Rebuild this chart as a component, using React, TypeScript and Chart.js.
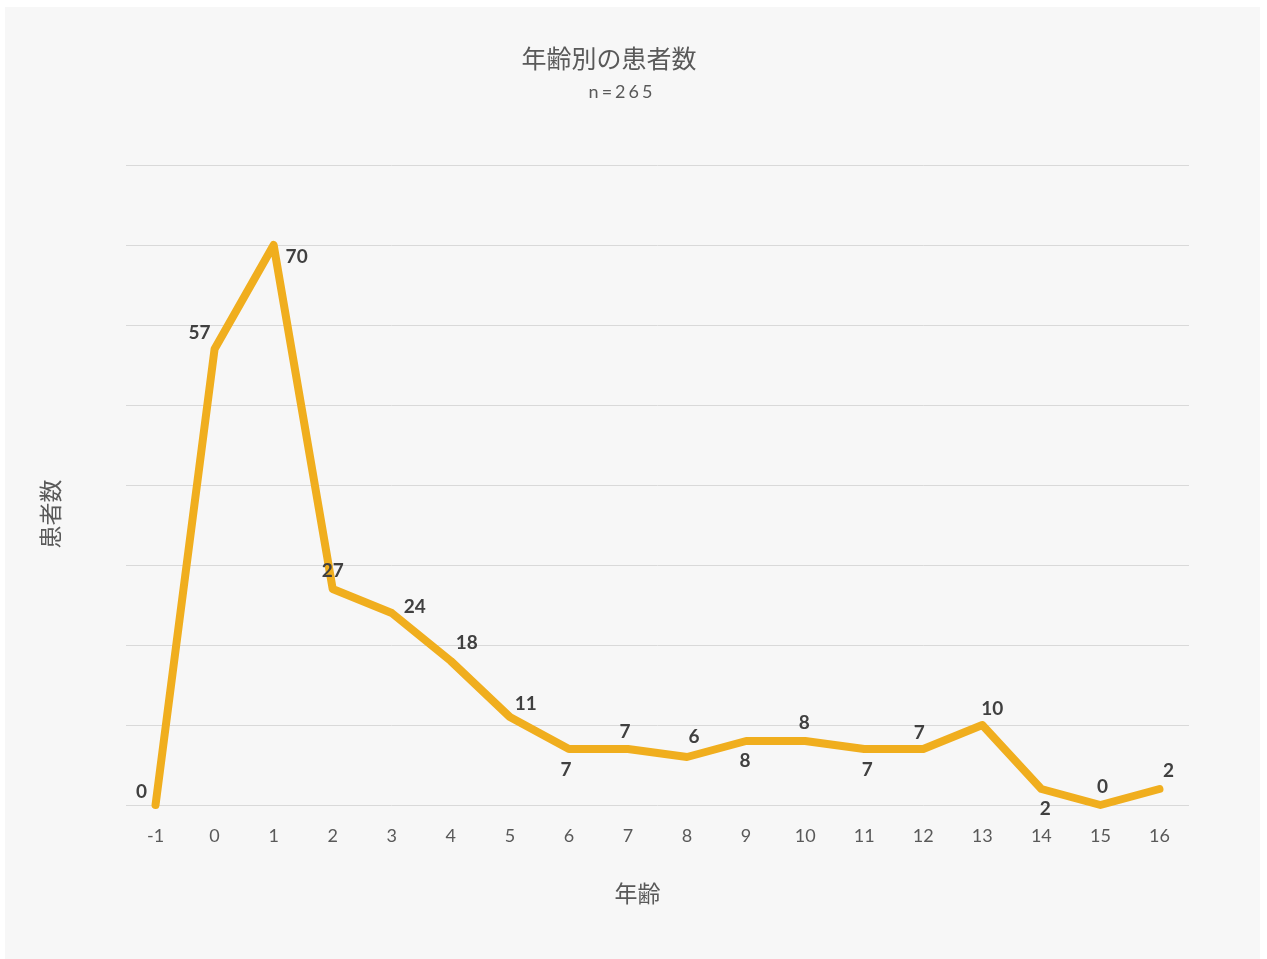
import React, { useEffect, useRef } from "react";
import { Chart, registerables } from "chart.js";

Chart.register(...registerables);

// 年齢 (x) と患者数 (y)
const ages = ["-1", "0", "1", "2", "3", "4", "5", "6", "7", "8", "9", "10", "11", "12", "13", "14", "15", "16"];
const patients = [0, 57, 70, 27, 24, 18, 11, 7, 7, 6, 8, 8, 7, 7, 10, 2, 0, 2];

// Where each value label sits relative to its point (dx, dy in px)
const labelOffsets: [number, number][] = [
  [-14, -13], [-15, -16], [23, 12], [0, -18], [23, -6], [16, -18], [16, -13],
  [-3, 21], [-3, -17], [7, -20], [-1, 20], [-1, -18], [3, 21], [-4, -16],
  [10, -16], [4, 20], [2, -18], [9, -18],
];

const chartTitle = "年齢別の患者数";
const chartSubtitle = "n=265";
const xTitle = "年齢";
const yTitle = "患者数";

const FONT = 'Lato, "Noto Sans CJK JP", sans-serif';
const GRAY = "#595959";
const LINE = "#F0AE1E";

const textPlugin = {
  id: "texts",
  afterDatasetsDraw(chart: any) {
    const ctx = chart.ctx as CanvasRenderingContext2D;
    const area = chart.chartArea;
    ctx.save();
    ctx.textAlign = "center";
    ctx.textBaseline = "middle";

    // titles
    ctx.fillStyle = GRAY;
    ctx.font = `25px ${FONT}`;
    ctx.fillText(chartTitle, 604, 53);
    ctx.font = `18px ${FONT}`;
    (ctx as any).letterSpacing = "3px";
    ctx.fillText(chartSubtitle, 617, 85);
    (ctx as any).letterSpacing = "0px";

    // axis titles
    ctx.font = `23px ${FONT}`;
    ctx.fillText(xTitle, (area.left + area.right) / 2 - 20, 888);
    ctx.save();
    ctx.translate(47, (area.top + area.bottom) / 2 + 29);
    ctx.rotate(-Math.PI / 2);
    ctx.fillText(yTitle, 0, 0);
    ctx.restore();

    // value labels
    const meta = chart.getDatasetMeta(0);
    ctx.font = `bold 19px ${FONT}`;
    ctx.fillStyle = "#404040";
    meta.data.forEach((pt: any, i: number) => {
      const [dx, dy] = labelOffsets[i];
      ctx.fillText(String(patients[i]), pt.x + dx, pt.y + dy);
    });
    ctx.restore();
  },
};

export default function App() {
  const ref = useRef<HTMLCanvasElement | null>(null);

  useEffect(() => {
    if (!ref.current) return;
    const chart = new Chart(ref.current, {
      type: "line",
      data: {
        labels: ages,
        datasets: [
          {
            data: patients,
            borderColor: LINE,
            backgroundColor: LINE,
            borderWidth: 8,
            borderCapStyle: "round",
            borderJoinStyle: "round",
            pointRadius: 0,
            tension: 0,
            clip: false,
          },
        ],
      },
      options: {
        animation: false,
        responsive: false,
        layout: { padding: { left: 121, right: 71, top: 158, bottom: 114 } },
        plugins: {
          legend: { display: false },
          title: { display: false },
          tooltip: { enabled: false },
        },
        scales: {
          x: {
            offset: true,
            grid: { display: false, drawTicks: false },
            border: { display: false },
            ticks: { color: GRAY, font: { family: FONT, size: 18 }, padding: 20 },
            afterFit: (s: any) => { s.height = 40; },
          },
          y: {
            min: 0,
            max: 80,
            ticks: { display: false, stepSize: 10 },
            grid: { color: "#d9d9d9", lineWidth: 1, drawTicks: false },
            border: { display: false },
            afterFit: (s: any) => { s.width = 0; },
          },
        },
      },
      plugins: [textPlugin],
    });
    return () => chart.destroy();
  }, []);

  return (
    <div
      style={{
        position: "fixed",
        left: 5,
        top: 7,
        width: 1255,
        height: 952,
        background: "#f7f7f7",
      }}
    >
      <canvas ref={ref} width={1255} height={952} style={{ display: "block" }} />
    </div>
  );
}
